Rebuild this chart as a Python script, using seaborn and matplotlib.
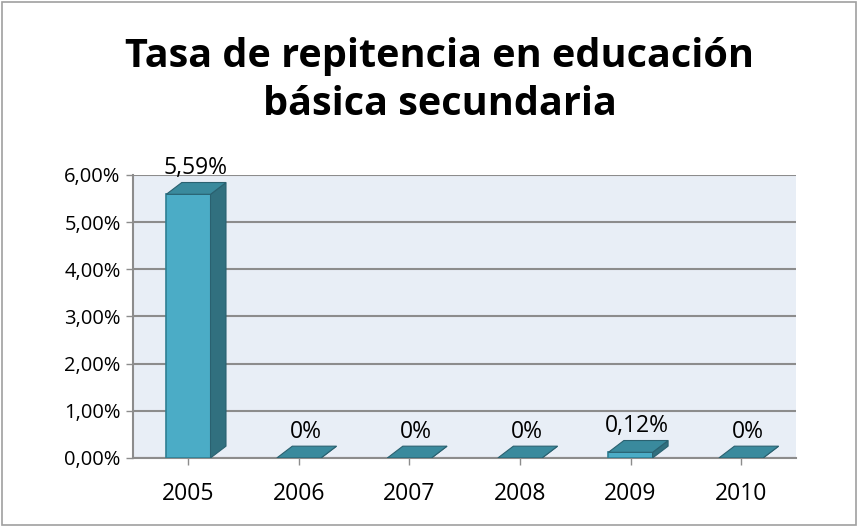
import pandas as pd
import seaborn as sns
import matplotlib.pyplot as plt
from matplotlib.patches import Rectangle, Polygon
from matplotlib.ticker import FuncFormatter

# Datos del gráfico
anios = ['2005', '2006', '2007', '2008', '2009', '2010']
tasa = [5.59, 0.0, 0.0, 0.0, 0.12, 0.0]
etiquetas = ['5,59%', '0%', '0%', '0%', '0,12%', '0%']

df = pd.DataFrame({'anio': anios, 'tasa': tasa})

sns.set_theme(style="white")
plt.rcParams['font.family'] = ['Open Sans', 'DejaVu Sans']

fig = plt.figure(figsize=(8.59, 5.27), dpi=100)
fig.patches.append(Rectangle((0.002, 0.003), 0.995, 0.993, transform=fig.transFigure,
                             fill=False, edgecolor='#a0a0a0', linewidth=1.2))

ax = fig.add_axes([0.155, 0.131, 0.772, 0.537])
ax.set_facecolor('#e8eef6')

sns.barplot(data=df, x='anio', y='tasa', color='#4bacc6', edgecolor='#2f7f93',
            linewidth=1.2, width=0.4, saturation=1, ax=ax, zorder=3)

# efecto de profundidad (cara lateral y superior) a partir de las barras dibujadas
dx, dy = 0.14, 0.25
for p in list(ax.patches):
    x0, y0 = p.get_x(), p.get_y()
    w, h = p.get_width(), p.get_height()
    lado = Polygon([(x0 + w, y0), (x0 + w + dx, y0 + dy), (x0 + w + dx, y0 + h + dy), (x0 + w, y0 + h)],
                   closed=True, facecolor='#31707f', edgecolor='#2a6170', linewidth=0.8, zorder=3)
    tapa = Polygon([(x0, y0 + h), (x0 + w, y0 + h), (x0 + w + dx, y0 + h + dy), (x0 + dx, y0 + h + dy)],
                   closed=True, facecolor='#3a8a9d', edgecolor='#2a6170', linewidth=0.8, zorder=3)
    ax.add_patch(lado)
    ax.add_patch(tapa)

ax.set_ylim(0, 6)
ax.set_yticks([0, 1, 2, 3, 4, 5, 6])
ax.yaxis.set_major_formatter(FuncFormatter(lambda v, p: f"{v:.2f}".replace('.', ',') + '%'))
ax.grid(axis='y', color='#8c8c8c', linewidth=1.5, zorder=0)
ax.set_axisbelow(True)

for i, v in enumerate(tasa):
    ax.text(i + 0.06, v + 0.3, etiquetas[i], ha='center', va='bottom', fontsize=16.5,
            color='black', zorder=5)

ax.set_xlabel('')
ax.set_ylabel('')
ax.tick_params(axis='y', labelsize=14.5, colors='black', length=5, width=1, color='#8c8c8c',
               direction='out', left=True, pad=4)
ax.tick_params(axis='x', labelsize=16.5, colors='black', length=5, width=1, color='#8c8c8c',
               direction='out', bottom=True, pad=12)
for s in ['top', 'right']:
    ax.spines[s].set_visible(False)
ax.spines['left'].set_color('#8c8c8c')
ax.spines['bottom'].set_color('#8c8c8c')
ax.spines['left'].set_linewidth(1.5)
ax.spines['bottom'].set_linewidth(1.5)

fig.suptitle('Tasa de repitencia en educación\nbásica secundaria', x=0.512, y=0.93,
             fontsize=28.5, fontweight='bold', linespacing=1.3, color='black')

plt.savefig('out.png', dpi=100)
plt.close()
